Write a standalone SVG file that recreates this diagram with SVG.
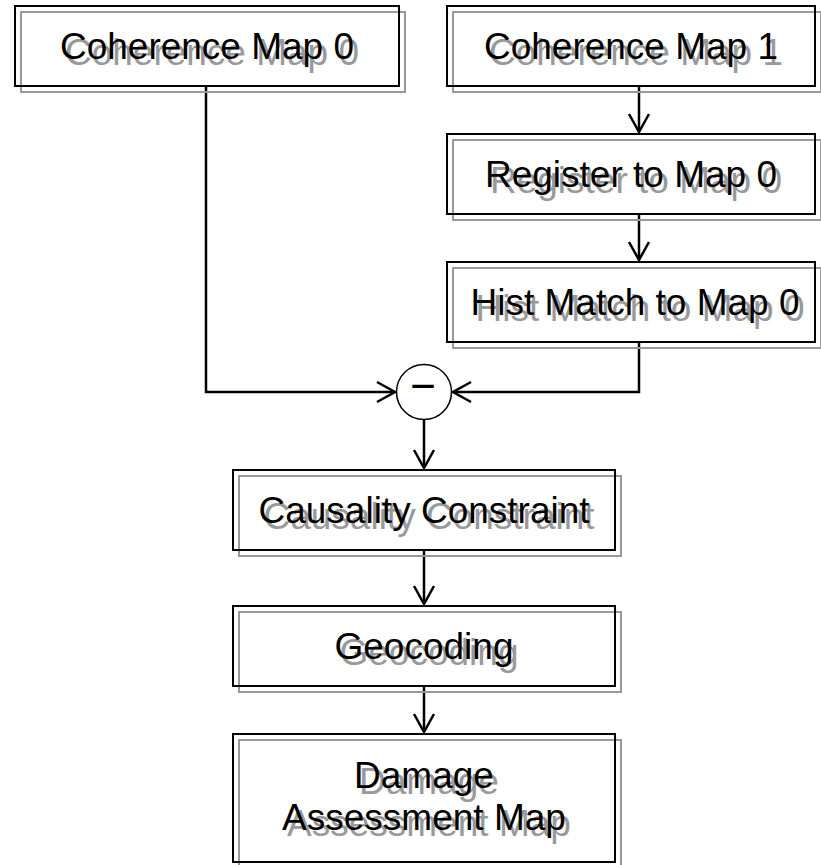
<svg xmlns="http://www.w3.org/2000/svg" width="821" height="865" viewBox="0 0 821 865">
<style>
  .bk{fill:none;stroke:#000;stroke-width:2}
  .gr{fill:none;stroke:#999;stroke-width:2}
  .t{font-family:"Liberation Sans",Arial,sans-serif;font-size:37px;text-anchor:middle;fill:#000}
  .s{font-family:"Liberation Sans",Arial,sans-serif;font-size:37px;text-anchor:middle;fill:#999}
  .c{fill:none;stroke:#000;stroke-width:2.5}
</style>
<defs>
  <marker id="ah" markerUnits="userSpaceOnUse" markerWidth="24" markerHeight="24" viewBox="-20 -12 24 24" refX="0" refY="0" orient="auto">
    <path d="M-18,-10 L0,0 L-18,10" fill="none" stroke="#000" stroke-width="2.5"/>
  </marker>
</defs>
<rect width="821" height="865" fill="#fff"/>
<g id="connectors">
  <path class="c" d="M206,86 V392 H395" marker-end="url(#ah)"/>
  <path class="c" d="M639,342 V392 H453" marker-end="url(#ah)"/>
  <path class="c" d="M424,420 V468" marker-end="url(#ah)"/>
  <path class="c" d="M639,86 V132" marker-end="url(#ah)"/>
  <path class="c" d="M639,214 V260" marker-end="url(#ah)"/>
  <path class="c" d="M424,550 V604" marker-end="url(#ah)"/>
  <path class="c" d="M424,686 V732" marker-end="url(#ah)"/>
</g>
<g id="coh0">
  <rect class="gr" x="21" y="12" width="384" height="80"/>
  <rect class="bk" x="15" y="6" width="384" height="80"/>
  <text class="s" x="212" y="65">Coherence Map 0</text>
  <text class="t" x="207" y="59">Coherence Map 0</text>
</g>
<g id="coh1">
  <rect class="gr" x="453" y="12" width="368" height="80"/>
  <rect class="bk" x="447" y="6" width="368" height="80"/>
  <text class="s" x="636" y="65">Coherence Map 1</text>
  <text class="t" x="631" y="59">Coherence Map 1</text>
</g>
<g id="register">
  <rect class="gr" x="453" y="140" width="368" height="80"/>
  <rect class="bk" x="447" y="134" width="368" height="80"/>
  <text class="s" x="636" y="193">Register to Map 0</text>
  <text class="t" x="631" y="187">Register to Map 0</text>
</g>
<g id="hist">
  <rect class="gr" x="453" y="268" width="368" height="80"/>
  <rect class="bk" x="447" y="262" width="368" height="80"/>
  <text class="s" x="640" y="321">Hist Match to Map 0</text>
  <text class="t" x="635" y="315">Hist Match to Map 0</text>
</g>
<g id="minus">
  <circle cx="424" cy="392" r="27.5" fill="#fff" stroke="#000" stroke-width="1.5"/>
  <text x="423" y="401" style="font-family:'Liberation Sans',Arial,sans-serif;font-size:44px;text-anchor:middle">−</text>
</g>
<g id="causality">
  <rect class="gr" x="239" y="476" width="382" height="80"/>
  <rect class="bk" x="233" y="470" width="382" height="80"/>
  <text class="s" x="429" y="529">Causality Constraint</text>
  <text class="t" x="424" y="523">Causality Constraint</text>
</g>
<g id="geocoding">
  <rect class="gr" x="239" y="612" width="382" height="80"/>
  <rect class="bk" x="233" y="606" width="382" height="80"/>
  <text class="s" x="429" y="665">Geocoding</text>
  <text class="t" x="424" y="659">Geocoding</text>
</g>
<g id="damage">
  <rect class="gr" x="239" y="740" width="382" height="128"/>
  <rect class="bk" x="233" y="734" width="382" height="128"/>
  <text class="s" x="429" y="794">Damage</text>
  <text class="t" x="424" y="788">Damage</text>
  <text class="s" x="429" y="836">Assessment Map</text>
  <text class="t" x="424" y="830">Assessment Map</text>
</g>
</svg>
